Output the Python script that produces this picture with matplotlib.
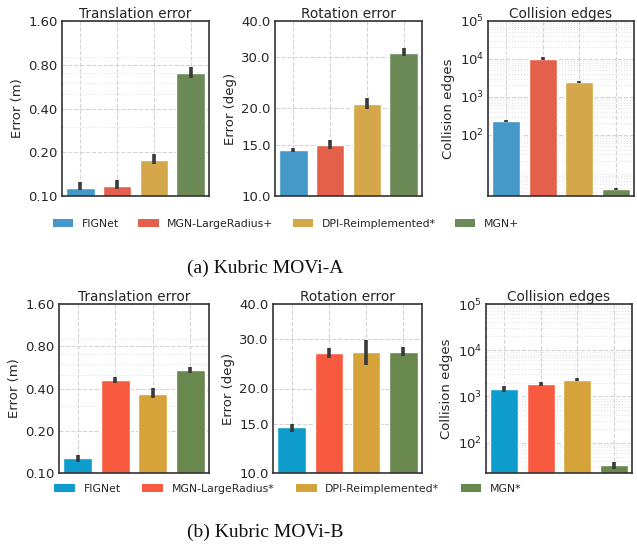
import matplotlib
matplotlib.use("Agg")
import matplotlib.pyplot as plt
import matplotlib.ticker as mticker
from matplotlib.patches import Patch
import numpy as np

plt.rcParams['font.family'] = ['DejaVu Sans']

# ---------------- data ----------------
methods_a = ["FIGNet", "MGN-LargeRadius+", "DPI-Reimplemented*", "MGN+"]
methods_b = ["FIGNet", "MGN-LargeRadius*", "DPI-Reimplemented*", "MGN*"]
colors_a = ["#4499c8", "#e4604a", "#d4a74a", "#6b8a55"]
colors_b = ["#0d9ccc", "#f85a40", "#d6a23a", "#68884e"]

# (a) Kubric MOVi-A
trans_a = [0.114, 0.118, 0.177, 0.70]
trans_a_lo = [0.110, 0.112, 0.165, 0.644]
trans_a_hi = [0.124, 0.128, 0.196, 0.766]
rot_a = [14.34, 14.99, 20.7, 31.1]
rot_a_lo = [14.12, 14.49, 19.98, 30.2]
rot_a_hi = [14.57, 15.63, 21.67, 32.2]
coll_a = [229, 10000, 2430, 3.7]
coll_a_lo = [215, 9600, 2290, 3.4]
coll_a_hi = [243, 11000, 2585, 3.95]

# (b) Kubric MOVi-B
trans_b = [0.127, 0.461, 0.365, 0.541]
trans_b_lo = [0.1198, 0.437, 0.345, 0.520]
trans_b_hi = [0.135, 0.487, 0.404, 0.565]
rot_b = [14.6, 26.7, 26.9, 27.0]
rot_b_lo = [14.0, 25.6, 24.35, 26.2]
rot_b_hi = [15.0, 27.8, 29.76, 28.1]
coll_b = [1440, 1820, 2290, 33]
coll_b_lo = [1220, 1645, 2108, 27.5]
coll_b_hi = [1645, 2005, 2445, 38.9]

trans_ticks = [0.10, 0.20, 0.40, 0.80, 1.60]
rot_ticks = [10.0, 15.0, 20.0, 30.0, 40.0]
coll_ticks = [1e2, 1e3, 1e4, 1e5]

titles = ["Translation error", "Rotation error", "Collision edges"]
ylabels = ["Error (m)", "Error (deg)", "Collision edges"]

W, H = 637, 544
fig = plt.figure(figsize=(W / 100, H / 100), dpi=100)


def add_ax(x0, y0, x1, y1):
    return fig.add_axes([x0 / W, 1 - y1 / H, (x1 - x0) / W, (y1 - y0) / H])


def draw(ax, vals, lo, hi, colors, ticks, ylim, title, ylabel, fmt, minor_grid):
    x = np.arange(len(vals))
    vals = np.array(vals)
    yerr = np.array([vals - np.array(lo), np.array(hi) - vals])
    ax.set_yscale("log")
    ax.set_axisbelow(True)
    ax.bar(x, vals, width=0.77, color=colors, edgecolor="white", linewidth=1.0, zorder=2)
    ax.errorbar(x, vals, yerr=yerr, fmt="none", ecolor="#3a3a3a", elinewidth=2.6, capsize=0, zorder=3)
    ax.set_xlim(-0.5, 3.5)
    ax.set_ylim(*ylim)
    ax.set_xticks(x)
    ax.set_xticklabels([])
    ax.tick_params(axis="x", length=0)
    ax.yaxis.set_major_locator(mticker.FixedLocator(ticks))
    ax.yaxis.set_major_formatter(fmt)
    ax.yaxis.set_minor_formatter(mticker.NullFormatter())
    if minor_grid:
        ax.yaxis.set_minor_locator(mticker.LogLocator(base=10, subs=np.arange(2, 10)))
        ax.grid(True, which="minor", axis="y", color="#e2e2e2", linestyle=":", linewidth=0.8)
    else:
        ax.yaxis.set_minor_locator(mticker.NullLocator())
    ax.tick_params(axis="y", which="both", length=0, labelsize=9.5, labelcolor="#262626", pad=3)
    ax.grid(True, which="major", color="#d4d4d4", linestyle="--", linewidth=0.8)
    for s in ax.spines.values():
        s.set_color("#333333")
        s.set_linewidth(1.2)
    ax.set_title(title, fontsize=9.8, color="#262626", pad=2)
    ax.set_ylabel(ylabel, fontsize=9.5, color="#262626", labelpad=3)


fmt2 = mticker.FuncFormatter(lambda v, p: f"{v:.2f}")
fmt1 = mticker.FuncFormatter(lambda v, p: f"{v:.1f}")
fmtp = mticker.LogFormatterSciNotation()

rows = [
    dict(y0=21, y1=196, xs=[(62, 209), (275, 422), (488, 634)], colors=colors_a,
         data=[(trans_a, trans_a_lo, trans_a_hi), (rot_a, rot_a_lo, rot_a_hi), (coll_a, coll_a_lo, coll_a_hi)],
         coll_lim=(2.4, 1e5)),
    dict(y0=304, y1=473, xs=[(59, 209), (273, 422), (486, 632)], colors=colors_b,
         data=[(trans_b, trans_b_lo, trans_b_hi), (rot_b, rot_b_lo, rot_b_hi), (coll_b, coll_b_lo, coll_b_hi)],
         coll_lim=(22, 1e5)),
]

for r in rows:
    specs = [
        (trans_ticks, (0.1, 1.6), fmt2, True),
        (rot_ticks, (10, 40), fmt1, False),
        (coll_ticks, r["coll_lim"], fmtp, True),
    ]
    for i in range(3):
        x0, x1 = r["xs"][i]
        ax = add_ax(x0, r["y0"], x1, r["y1"])
        v, lo, hi = r["data"][i]
        ticks, ylim, fmt, mg = specs[i]
        draw(ax, v, lo, hi, r["colors"], ticks, ylim, titles[i], ylabels[i], fmt, mg)

# legends
for methods, colors, yc, xc, cs in [(methods_a, colors_a, 224, 286, 1.75), (methods_b, colors_b, 489, 288, 2.0)]:
    handles = [Patch(facecolor=c, edgecolor="none") for c in colors]
    fig.legend(handles, methods, loc="center", bbox_to_anchor=(xc / W, 1 - yc / H), ncol=4,
               frameon=False, fontsize=7.8, handlelength=1.9, handleheight=0.7,
               columnspacing=cs, handletextpad=0.8, labelcolor="#262626")

fig.text(265 / W, 1 - 268 / H, "(a) Kubric MOVi-A", ha="center", va="center",
         family="Liberation Serif", fontsize=14, color="#111111")
fig.text(265 / W, 1 - 532 / H, "(b) Kubric MOVi-B", ha="center", va="center",
         family="Liberation Serif", fontsize=14, color="#111111")

fig.savefig("out.png", dpi=100)
